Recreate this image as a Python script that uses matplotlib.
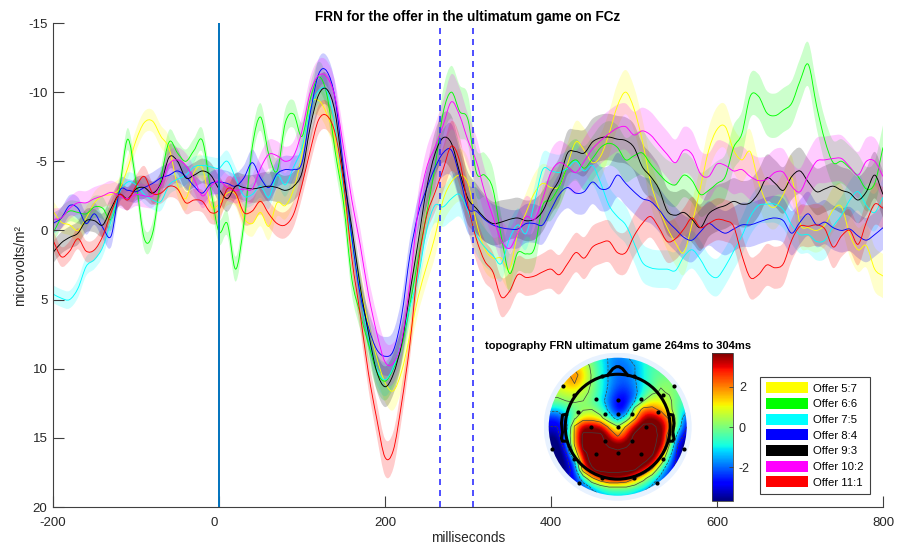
import numpy as np
import matplotlib
matplotlib.use("Agg")
import matplotlib.pyplot as plt
from matplotlib.patches import Circle, Patch, PathPatch
from matplotlib.path import Path
from matplotlib.transforms import ScaledTranslation

plt.rcParams['font.family'] = ['Liberation Sans', 'DejaVu Sans']
plt.rcParams['axes.unicode_minus'] = False

W, H = 904, 545

time_ms = list(range(-200, 801, 10))

offer_5_7 = [-1.4, -0.6, -0.4, 0.0, -0.9, -2.0, -2.5, -2.6, -3.0, -4.5, -6.5, -7.8, -7.9, -6.8, -5.9, -3.3, -2.3, -4.2, -4.5, -1.8,
             -1.9, -2.7, -2.6, -0.9, -0.5, -1.3, -0.3, -2.0, -1.8, -3.0, -5.5, -9.0, -9.4, -8.4, -6.5, -2.5, 1.0, 4.0, 6.8, 9.2,
             11.0, 11.6, 10.2, 7.6, 4.8, 2.6, 0.5, -2.2, -3.5, -4.0, -3.4, -0.6, 1.3, 2.0, 2.0, 2.8, 0.2, -1.3, -2.7, -3.4,
             -3.1, -3.2, -4.8, -6.4, -5.8, -4.9, -5.4, -7.0, -9.0, -10.0, -8.8, -6.5, -3.5, -1.6, -0.2, 0.9, 1.6, -0.5, -3.1, -5.8,
             -7.3, -7.5, -5.8, -5.1, -5.7, -3.5, -2.0, -1.7, -2.6, -3.8, -0.5, -0.2, 0.0, -0.4, -1.5, -1.7, 0.3, 1.4, 1.1, 2.8, 3.3]
offer_6_6 = [0.2, -0.9, -1.4, -1.3, -1.2, -1.7, -1.6, -0.8, -3.0, -6.6, -3.5, 0.6, 0.2, -3.7, -6.4, -5.6, -5.0, -5.8, -6.5, -3.0,
             0.1, -0.5, 2.8, -0.5, -6.0, -8.2, -5.5, -4.3, -7.8, -8.4, -6.8, -9.5, -11.1, -9.8, -5.7, -2.0, 3.5, 6.0, 8.2, 10.2,
             10.9, 10.0, 8.4, 5.4, 2.0, -1.2, -4.5, -8.5, -10.0, -8.6, -8.0, -4.2, -4.0, -3.0, 0.4, 3.1, 1.6, 1.7, 1.3, -1.8,
             -2.2, -3.2, -4.6, -5.1, -4.5, -5.2, -6.0, -6.3, -6.0, -5.1, -5.4, -5.6, -4.8, -4.1, -3.5, -3.3, -4.0, -3.6, -2.6, -2.9,
             -3.4, -3.9, -6.0, -7.0, -9.7, -9.7, -8.5, -8.3, -8.7, -9.2, -10.8, -12.0, -9.0, -6.5, -4.9, -5.0, -4.5, -3.9, -3.0, -3.4, -6.0]
offer_7_5 = [4.6, 4.9, 5.0, 4.2, 2.6, 2.1, 1.2, -0.7, -2.7, -3.5, -3.3, -2.6, -2.2, -2.1, -3.3, -3.7, -4.0, -4.6, -4.7, -4.6,
             -4.5, -5.0, -3.8, -2.5, -2.6, -3.2, -2.4, -4.0, -3.3, -4.6, -6.0, -8.8, -10.1, -10.1, -7.5, -3.0, 0.8, 4.5, 7.7, 10.0,
             10.8, 9.9, 8.0, 5.5, 3.4, 0.0, -1.8, -1.7, -2.3, -2.6, -1.4, 0.3, 1.2, 1.8, 2.4, 0.6, -0.4, 0.2, -2.0, -4.4,
             -4.3, -4.2, -4.5, -5.0, -4.3, -4.7, -3.4, -1.8, -1.0, -0.4, 0.9, 2.3, 2.7, 2.8, 2.8, 2.9, 1.9, 1.4, 2.1, 3.1,
             3.4, 2.6, 1.5, 0.4, -1.0, -1.8, -1.9, -1.9, -1.5, -0.4, 0.3, 0.3, 0.8, 0.7, -0.3, -1.1, -2.2, -2.8, -1.8, -1.3, -2.4]
offer_8_4 = [-0.5, -0.9, -1.8, -1.6, -0.5, -1.2, -0.2, 0.4, -2.8, -2.9, -2.8, -3.1, -3.4, -3.8, -4.0, -4.3, -3.9, -3.2, -2.7, -3.4,
             -3.5, -3.4, -3.2, -3.8, -4.9, -3.8, -3.1, -4.1, -4.4, -4.4, -4.9, -8.5, -11.3, -11.5, -9.5, -4.5, 0.5, 4.6, 7.0, 8.6,
             9.1, 8.7, 6.2, 1.8, -1.2, -3.0, -4.5, -5.6, -5.8, -3.9, -1.6, -1.4, -0.8, -0.4, -0.2, -0.1, -0.1, -0.5, -0.5, -0.4,
             -1.5, -2.6, -3.1, -2.7, -2.8, -3.5, -3.0, -3.1, -4.0, -3.4, -2.8, -2.3, -2.1, -1.5, -0.7, -0.1, 0.5, 0.7, 0.1, -0.5,
             -0.1, 0.2, -0.1, -0.4, -0.4, -0.6, -0.8, -0.9, -0.7, 0.2, -0.6, -1.2, -0.4, -0.6, -0.2, 0.0, -0.1, 0.4, 0.7, 0.3, -0.2]
offer_9_3 = [1.6, 0.9, 0.5, 0.2, -0.7, -0.7, -0.4, -1.6, -2.6, -2.3, -3.0, -3.1, -2.7, -3.4, -5.3, -5.0, -3.8, -4.0, -4.3, -4.0,
             -3.0, -2.3, -3.2, -3.1, -3.0, -3.1, -3.2, -3.1, -2.9, -3.2, -4.2, -7.5, -9.8, -10.2, -8.5, -4.0, -0.2, 4.0, 7.4, 10.2,
             11.3, 10.4, 8.2, 4.5, 0.8, -3.0, -5.5, -6.7, -6.3, -4.2, -2.3, -1.6, -0.9, -0.5, -0.6, -0.8, -0.9, -0.7, -0.8, -1.4,
             -2.7, -3.7, -5.6, -5.7, -5.6, -6.4, -6.7, -6.75, -6.6, -6.5, -6.0, -4.6, -3.9, -3.0, -1.4, -1.1, -1.3, -0.8, -0.2, -1.2,
             -1.6, -1.8, -2.1, -1.9, -2.0, -2.7, -3.8, -3.4, -2.9, -3.9, -4.3, -3.5, -2.8, -3.0, -3.2, -2.9, -2.7, -2.2, -2.8, -4.0, -2.6]
offer_10_2 = [-0.8, -0.9, -1.6, -2.0, -2.0, -2.3, -2.5, -2.75, -2.5, -2.3, -2.6, -2.5, -2.5, -3.3, -4.8, -5.1, -4.7, -3.7, -2.5, -3.2,
              -3.6, -3.1, -2.9, -3.0, -3.0, -4.5, -5.5, -5.4, -5.0, -5.4, -7.2, -10.0, -11.2, -11.1, -9.6, -6.0, -2.2, 1.0, 4.6, 7.4,
              9.5, 9.6, 8.0, 3.8, -1.5, -4.5, -6.0, -7.6, -9.3, -8.3, -6.5, -5.0, -2.8, -1.0, 0.7, 1.3, 0.2, -1.0, -0.8, -2.3,
              -4.2, -4.9, -4.6, -4.2, -5.0, -5.9, -6.5, -7.0, -7.4, -7.5, -6.9, -7.2, -6.9, -6.2, -5.5, -4.9, -5.8, -5.5, -4.1, -3.9,
              -4.8, -4.7, -4.3, -4.4, -3.9, -3.6, -3.7, -4.2, -4.2, -3.2, -2.8, -4.0, -5.0, -5.1, -5.2, -5.2, -4.6, -4.0, -5.0, -5.0, -3.9]
offer_11_1 = [0.7, 1.9, 1.5, 0.6, 1.5, 1.4, 0.4, -1.3, -2.6, -2.2, -3.2, -3.9, -2.7, -2.7, -3.2, -3.0, -2.0, -2.2, -2.1, -1.3,
              -1.5, -3.0, -2.7, -1.3, -1.4, -2.1, -1.2, -0.5, -0.4, -1.2, -3.3, -5.8, -8.0, -8.3, -7.0, -3.5, 2.0, 6.0, 10.3, 13.6,
              16.4, 15.9, 12.5, 8.2, 2.5, -1.0, -2.7, -4.4, -6.1, -5.0, -1.8, 0.6, 2.2, 3.0, 4.8, 4.4, 3.2, 3.4, 3.3, 3.0,
              2.8, 3.2, 2.4, 1.6, 2.0, 1.2, 0.9, 0.8, 1.6, 1.6, 0.4, -0.5, -1.0, -0.2, 0.8, 0.6, -0.1, -0.9, -0.2, -0.5,
              -0.8, -0.7, -0.3, 1.8, 3.4, 3.2, 2.5, 2.7, 2.4, 0.7, -0.3, -0.3, -0.4, -0.1, 1.2, 0.4, 0.0, 1.0, -0.6, -1.9, -1.6]

# standard error, same time course for all, scaled per offer
sem_course = [.75, .75, .75, .8, .8, .8, .8, .8, .8, .8, .8, .8, .8, .8, .85, .85, .85, .85, .85, .85,
              .9, .9, .9, .9, .95, 1, 1, 1, 1, 1, 1, 1.05, 1.1, 1.1, 1.1, 1.1, 1.1, 1.15, 1.2, 1.3,
              1.4, 1.4, 1.3, 1.2, 1.2, 1.3, 1.5, 1.7, 1.9, 1.9, 1.8, 1.7, 1.6, 1.5, 1.5, 1.4, 1.4, 1.4, 1.4, 1.4,
              1.5, 1.5, 1.5, 1.5, 1.6, 1.6, 1.6, 1.6, 1.6, 1.6, 1.6, 1.6, 1.6, 1.6, 1.6, 1.6, 1.6, 1.6, 1.6, 1.6,
              1.6, 1.6, 1.6, 1.6, 1.6, 1.6, 1.6, 1.6, 1.6, 1.6, 1.6, 1.6, 1.6, 1.6, 1.6, 1.6, 1.6, 1.6, 1.6, 1.6, 1.6]
sem_scale = [1.0, 1.0, 0.85, 1.0, 1.05, 1.05, 0.95]

offers = [offer_5_7, offer_6_6, offer_7_5, offer_8_4, offer_9_3, offer_10_2, offer_11_1]
offer_names = ['Offer 5:7', 'Offer 6:6', 'Offer 7:5', 'Offer 8:4', 'Offer 9:3', 'Offer 10:2', 'Offer 11:1']
offer_colors = ['#ffff00', '#00ff00', '#00ffff', '#0000ff', '#000000', '#ff00ff', '#ff0000']

# scalp map, rows from front to back, columns from left to right
topo_rows = [
    [.5, .5, .5, .5, .3, -.3, -1, -1.6, -1.8, -1.6, -1.2, -.8, -.5, -.5, -.5, -.5, -.5],
    [1, 1, 1, 1.5, .8, 0, -.8, -1.6, -2, -1.9, -1.5, -.9, -.4, -.4, -.4, -.4, -.4],
    [1.5, 1.5, 1.5, 2.2, 1.2, .1, -.8, -1.6, -2, -2, -1.5, -.9, -.3, -.2, -.2, -.2, -.2],
    [1, 1, 1.5, 1.8, .9, .1, -.8, -1.6, -2.1, -2.1, -1.6, -.9, -.3, .1, .1, .1, .1],
    [.5, .5, .8, .8, .5, 0, -.8, -1.8, -2.5, -2.5, -1.8, -.7, 0, .3, .1, -.2, -.2],
    [0, 0, .2, .3, .2, -.2, -1, -2.1, -2.9, -2.8, -1.5, .2, .9, .9, .4, -.4, -.4],
    [-1.2, -1.2, -.6, -.2, .1, .2, -.5, -1.8, -3, -2.5, .8, 2.2, 2.2, 1.5, .5, -.5, -1.2],
    [-2.5, -2.5, -1.5, 0, 1.2, 1.2, .6, -.8, -2, -.7, 1.6, 3.5, 3.6, 3, 1.5, -.5, -2.5],
    [-3, -3, -2.2, 2, 3.5, 3.5, 3.2, 1.5, .3, 2, 3.5, 4.5, 4.5, 3.8, 2, -.8, -3],
    [-3.5, -3.5, -1.5, 2, 4.5, 4.5, 4.5, 3, 1.6, 3, 4.5, 4.5, 4.5, 4, .8, -2, -3.5],
    [-4, -4, -2, 2, 4.5, 4.5, 4.5, 4, 3.5, 4, 4.5, 4.5, 4.5, 3.8, .3, -3, -4],
    [-4, -4, -3, 1, 4, 4.5, 4.5, 4.5, 4.5, 4.5, 4.5, 4.5, 4.5, 2.5, -.8, -3.5, -4],
    [-4, -4, -3.5, -1.5, 3.5, 4.5, 4.5, 4.5, 4.5, 4.5, 4.5, 4.5, 3.5, 1, -1.8, -3.5, -4],
    [-4, -4, -3.5, -2.5, 2.5, 4, 4.5, 4.5, 4.5, 4.5, 4.2, 3, 1.5, -1, -2.5, -3.5, -4],
    [-3.5, -3.5, -3.2, -2.7, -.8, 1.5, 2.8, 3.5, 3.5, 3, 1.8, .6, -.8, -1.9, -2.8, -3.2, -3.5],
    [-3, -3, -3, -2.8, -2.2, -1.3, -.4, .2, .2, .2, -.3, -1, -1.7, -2.4, -2.8, -3, -3],
    [-2.8, -2.8, -2.8, -2.8, -2.6, -2, -1.6, -1.3, -1.3, -1.3, -1.6, -2, -2.4, -2.8, -2.8, -2.8, -2.8],
]
electrode_x = [-.23, .24, -.79, .81, -.64, .65, -.32, .01, .34, -.57, -.18, .01, .20, .58, .01,
               -.39, .41, -.18, .20, -.95, .96, -.32, .01, .34, -.64, .65, -.56, .57, -.23, .24]
electrode_y = [.74, .74, .59, .59, .46, .46, .40, .38, .40, .21, .19, .19, .19, .21, 0,
               0, 0, -.20, -.20, -.32, -.32, -.40, -.38, -.40, -.47, -.47, -.81, -.81, -.74, -.74]
nose_x = [-.15, -.07, -.02, .02, .07, .15]
nose_y = [.74, .84, .87, .87, .84, .74]
ear_x = [.74, .80, .815, .80, .815, .80, .74]
ear_y = [.18, .17, .05, -.08, -.17, -.21, -.21]


def px_axes(fig, left, top, right, bottom):
    return fig.add_axes([left / W, 1 - bottom / H, (right - left) / W, (bottom - top) / H])


def bezier(x, y):
    """cubic path running through every (x, y), so traces stay round"""
    p = np.column_stack([x, y])
    g = np.gradient(p, axis=0) / 3
    verts = [p[0]]
    for i in range(len(p) - 1):
        verts += [p[i] + g[i], p[i + 1] - g[i + 1], p[i + 1]]
    return verts


def main():
    fig = plt.figure(figsize=(W / 100, H / 100), dpi=100)
    ax = px_axes(fig, 53, 23, 883, 507)

    t = np.array(time_ms)
    sem = np.array(sem_course)
    for vals, col, sc in zip(offers, offer_colors, sem_scale):
        v = np.array(vals)
        up = bezier(t, v - sem * sc)
        low = bezier(t[::-1], (v + sem * sc)[::-1])
        n = len(up) - 1
        codes = [Path.MOVETO] + [Path.CURVE4] * n + [Path.LINETO] + [Path.CURVE4] * n + [Path.CLOSEPOLY]
        verts = up + low + [low[-1]]
        ax.add_patch(PathPatch(Path(verts, codes), facecolor=col, edgecolor='none', alpha=0.2, lw=0))
    for vals, col in zip(offers, offer_colors):
        verts = bezier(t, np.array(vals))
        codes = [Path.MOVETO] + [Path.CURVE4] * (len(verts) - 1)
        ax.add_patch(PathPatch(Path(verts, codes), fill=False, edgecolor=col, lw=0.65))

    ax.axvline(0, color='#0072BD', lw=1.4)
    ax.axvline(266, color='#3030ff', lw=1.2, dashes=(3.6, 3))
    ax.axvline(306, color='#3030ff', lw=1.2, dashes=(3.6, 3))

    ax.set_xlim(-200, 800)
    ax.set_ylim(20, -15)
    ax.set_xticks([-200, 0, 200, 400, 600, 800])
    ax.set_yticks([-15, -10, -5, 0, 5, 10, 15, 20])
    ax.tick_params(direction='in', length=8, width=0.8, color='#404040', labelcolor='#262626',
                   labelsize=9.5)
    ax.tick_params(axis='x', pad=7)
    ax.tick_params(axis='y', pad=4)
    for side in ['top', 'right']:
        ax.spines[side].set_visible(False)
    for side in ['left', 'bottom']:
        ax.spines[side].set_color('#404040')
        ax.spines[side].set_linewidth(0.8)
    ax.set_xlabel('milliseconds', fontsize=9.8, color='#262626', labelpad=2)
    ax.set_ylabel('microvolts/m²', fontsize=9.8, color='#262626', labelpad=1)
    # the 0 sits a little left of its tick in the original
    zero = ax.get_xticklabels()[1]
    zero.set_transform(zero.get_transform() + ScaledTranslation(-5 / 100, 0, fig.dpi_scale_trans))
    fig.text(468 / W, 1 - 16.5 / H, 'FRN for the offer in the ultimatum game on FCz',
             ha='center', va='center', fontsize=9.8, fontweight='bold')

    handles = [Patch(facecolor=c, edgecolor='none', label=n) for c, n in zip(offer_colors, offer_names)]
    leg = fig.legend(handles=handles, loc='lower left', bbox_to_anchor=(760.5 / W, 1 - 493.5 / H),
                     fontsize=8.2, frameon=True, fancybox=False, framealpha=1, edgecolor='#404040',
                     handlelength=3.7, handleheight=1.1, handletextpad=0.45, labelspacing=0.38,
                     borderpad=0.5, borderaxespad=0)
    leg.get_frame().set_linewidth(0.8)

    # inset scalp map
    r = 74 / 69
    topo = px_axes(fig, 617.7 - 74, 426.7 - 74, 617.7 + 74, 426.7 + 74)
    topo.set_xlim(-r, r)
    topo.set_ylim(-r, r)
    topo.set_aspect('equal')
    topo.axis('off')
    topo.add_patch(Circle((0, 0), r, facecolor='#e8f2ff', edgecolor='none'))
    grid = np.array(topo_rows)
    xs = np.linspace(-1, 1, grid.shape[1])
    ys = np.linspace(1, -1, grid.shape[0])
    im = topo.imshow(grid, extent=(-1.06, 1.06, -1.06, 1.06), cmap='jet', vmin=-3.64, vmax=3.64,
                     interpolation='bicubic', zorder=2)
    clip = Circle((0, 0), 1, transform=topo.transData)
    im.set_clip_path(clip)
    cs = topo.contour(xs, ys, grid, levels=[-3, -1.5, 0.2, 1.8, 4.2],
                      colors='#404040', linewidths=0.5, zorder=3)
    cs.set_clip_path(clip)
    topo.add_patch(Circle((0, 0), 0.76, fill=False, edgecolor='black', lw=2.2, zorder=4))
    topo.plot(nose_x, nose_y, color='black', lw=2.2, zorder=4, solid_capstyle='round')
    topo.plot(ear_x, ear_y, color='black', lw=2.2, zorder=4)
    topo.plot([-x for x in ear_x], ear_y, color='black', lw=2.2, zorder=4)
    topo.scatter(electrode_x, electrode_y, s=9, color='black', zorder=5, linewidths=0)
    topo.set_xlim(-r, r)
    topo.set_ylim(-r, r)
    fig.text(618 / W, 1 - 346 / H, 'topography FRN ultimatum game 264ms to 304ms',
             ha='center', va='center', fontsize=8.0, fontweight='bold')

    cax = px_axes(fig, 711.7, 353.3, 733.3, 500.7)
    cb = fig.colorbar(im, cax=cax)
    cb.set_ticks([-2, 0, 2])
    cb.ax.tick_params(direction='in', length=3, width=0.6, color='#404040', labelcolor='#262626',
                      labelsize=9, pad=4)
    cb.outline.set_edgecolor('#404040')
    cb.outline.set_linewidth(0.6)

    fig.savefig('out.png', dpi=100)


if __name__ == "__main__":
    main()
